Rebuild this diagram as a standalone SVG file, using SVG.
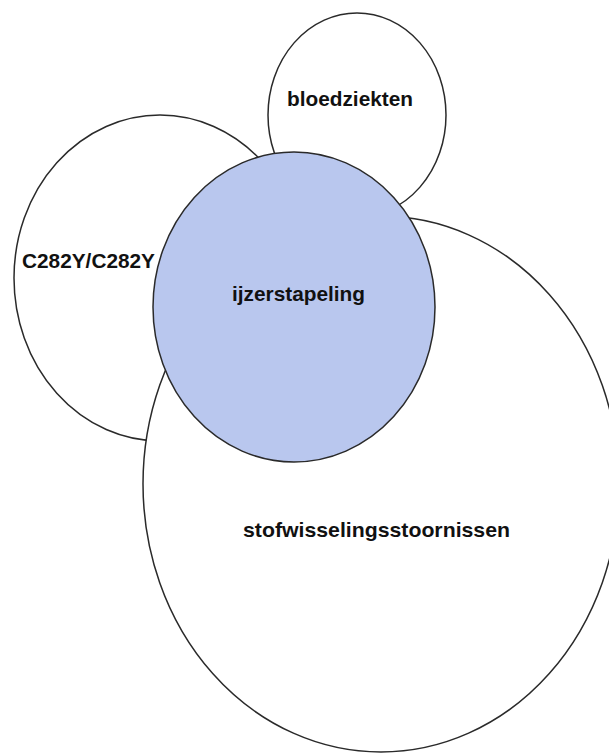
<svg xmlns="http://www.w3.org/2000/svg" width="609" height="754" viewBox="0 0 609 754">
<style>
.set{fill:#ffffff;stroke:#2a2a2a;stroke-width:1.5}
.core{fill:#b9c7ee;stroke:#2a2a2a;stroke-width:1.5}
.lbl{font-family:"Liberation Sans",Arial,sans-serif;font-weight:bold;font-size:21px;fill:#111111}
</style>
<rect width="609" height="754" fill="#ffffff"/>
<g id="connectors"></g>
<g id="c282y">
<ellipse class="set" cx="160" cy="278" rx="146" ry="163"/>
<text class="lbl" x="22" y="268" textLength="133" lengthAdjust="spacingAndGlyphs">C282Y/C282Y</text>
</g>
<g id="bloedziekten">
<ellipse class="set" cx="357" cy="115" rx="89" ry="102"/>
<text class="lbl" x="287" y="106" textLength="126" lengthAdjust="spacingAndGlyphs">bloedziekten</text>
</g>
<g id="stofwisselingsstoornissen">
<ellipse class="set" cx="381" cy="484" rx="238" ry="268"/>
<text class="lbl" x="243" y="537" textLength="267" lengthAdjust="spacingAndGlyphs">stofwisselingsstoornissen</text>
</g>
<g id="ijzerstapeling">
<ellipse class="core" cx="294" cy="307" rx="141" ry="155"/>
<text class="lbl" x="232" y="301" textLength="133" lengthAdjust="spacingAndGlyphs">ijzerstapeling</text>
</g>
</svg>
